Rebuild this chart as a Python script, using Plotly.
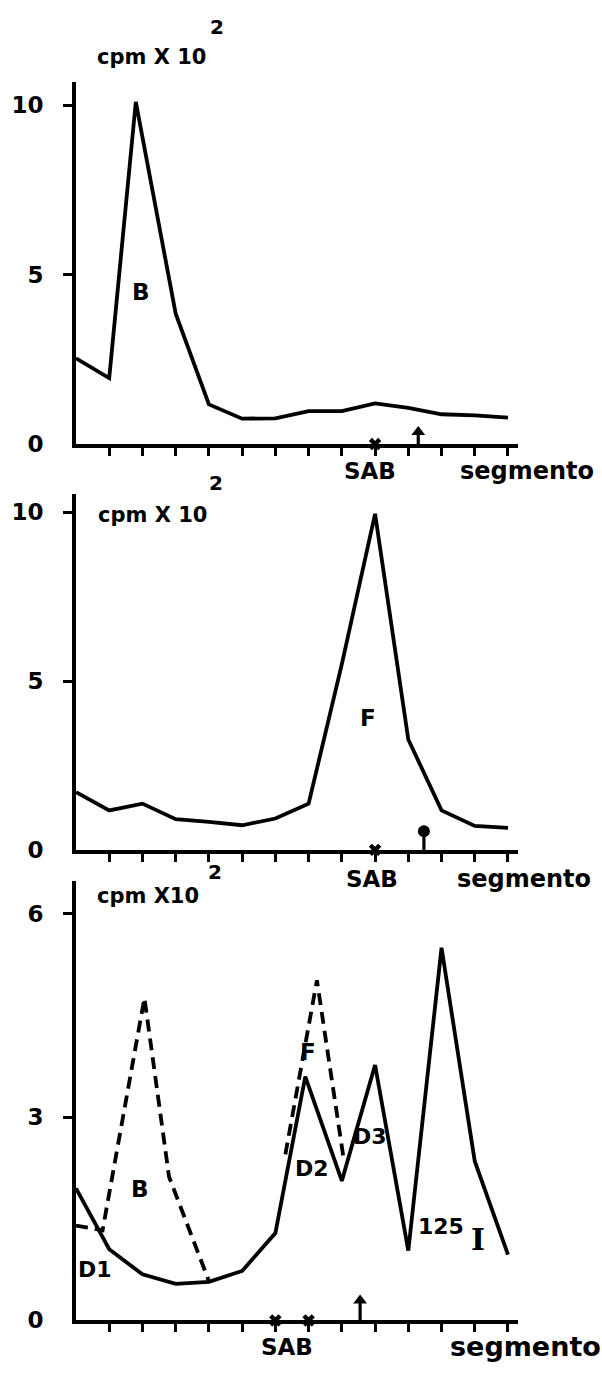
import plotly.graph_objects as go

# ---------------- data ----------------
x_tick_segments = [1, 2, 3, 4, 5, 6, 7, 8, 9, 10, 11, 12, 13]

panel_a_x = [0, 1, 1.8, 3, 4, 5, 6, 7, 8, 9, 10, 11, 12, 13]
panel_a_cpm = [2.53, 1.95, 10.1, 3.85, 1.17, 0.75, 0.76, 0.97, 0.97, 1.2, 1.07, 0.88, 0.85, 0.78]

panel_b_x = [0, 1, 2, 3, 4, 5, 6, 7, 8, 9, 10, 11, 12, 13]
panel_b_cpm = [1.71, 1.17, 1.37, 0.91, 0.83, 0.73, 0.93, 1.37, 5.5, 9.95, 3.27, 1.17, 0.71, 0.65]

panel_c_x = [0, 1, 2, 3, 4, 5, 6, 6.9, 8, 9, 10, 11, 12, 13]
panel_c_cpm = [1.95, 1.05, 0.68, 0.54, 0.57, 0.73, 1.29, 3.6, 2.06, 3.77, 1.03, 5.5, 2.35, 0.97]

panel_c_B_x = [0, 0.8, 2.06, 2.8, 4.0]
panel_c_B_cpm = [1.4, 1.33, 4.76, 2.12, 0.58]
panel_c_F_x = [6.3, 7.25, 8.05]
panel_c_F_cpm = [2.45, 5.02, 2.4]

sab_marks = [[9], [9], [6, 7]]
arrow_x = [10.3, 10.47, 8.55]
arrow_top = [0.53, 0.73, 0.38]
arrow_head = ["triangle-up", "circle", "triangle-up"]

y_ticks = [[0, 5, 10], [0, 5, 10], [0, 3, 6]]
y_tops = [10.7, 10.55, 6.48]
x_end = 13.3

# ---------------- layout geometry (pixels) ----------------
W, H = 602, 1378
x0_px = 76
px_per_seg = 33.23
zero_px = [448.3, 858.0, 1333.0]
px_per_unit = [34.2, 34.1, 68.4]

FONT = "DejaVu Sans"
LW = 3.8
AXW = 3.8


def px_x(panel, x):
    return (x0_px + x * px_per_seg) / W


def px_y(panel, y):
    return 1 - (zero_px[panel] - y * px_per_unit[panel]) / H


fig = go.Figure()
layout = dict(width=W, height=H, margin=dict(l=0, r=0, t=0, b=0),
              paper_bgcolor="white", plot_bgcolor="white", showlegend=False)

xdom = [x0_px / W, (x0_px + x_end * px_per_seg) / W]

for i in range(3):
    n = "" if i == 0 else str(i + 1)
    xa, ya = "x" + n, "y" + n
    ydom = [1 - zero_px[i] / H, 1 - (zero_px[i] - y_tops[i] * px_per_unit[i]) / H]
    layout["xaxis" + n] = dict(domain=xdom, range=[0, x_end], anchor=ya,
                               showline=True, linewidth=AXW, linecolor="black",
                               showgrid=False, zeroline=False,
                               tickvals=x_tick_segments, ticks="outside", ticklen=8,
                               tickwidth=2.8, tickcolor="black", showticklabels=False)
    layout["yaxis" + n] = dict(domain=ydom, range=[0, y_tops[i]], anchor=xa,
                               showline=True, linewidth=AXW, linecolor="black",
                               showgrid=False, zeroline=False,
                               tickvals=y_ticks[i], ticktext=[str(v) for v in y_ticks[i]],
                               ticks="", ticklabelstandoff=24,
                               tickfont=dict(family=FONT, size=23, color="black", weight="bold"),
                               minor=dict(tickvals=[v for v in y_ticks[i] if v != 0],
                                          ticks="outside", ticklen=9, tickwidth=2.8,
                                          tickcolor="black"))

# main curves
mains = [(panel_a_x, panel_a_cpm), (panel_b_x, panel_b_cpm), (panel_c_x, panel_c_cpm)]
for i, (xs, ys) in enumerate(mains):
    n = "" if i == 0 else str(i + 1)
    fig.add_trace(go.Scatter(x=xs, y=ys, mode="lines", xaxis="x" + n, yaxis="y" + n,
                             line=dict(color="black", width=LW), cliponaxis=False,
                             hoverinfo="skip"))

# dashed curves (bottom panel)
for xs, ys in [(panel_c_B_x, panel_c_B_cpm), (panel_c_F_x, panel_c_F_cpm)]:
    fig.add_trace(go.Scatter(x=xs, y=ys, mode="lines", xaxis="x3", yaxis="y3",
                             line=dict(color="black", width=LW, dash="12px,7px"),
                             cliponaxis=False, hoverinfo="skip"))

# SAB markers and arrows
for i in range(3):
    n = "" if i == 0 else str(i + 1)
    fig.add_trace(go.Scatter(x=sab_marks[i], y=[0] * len(sab_marks[i]), mode="markers",
                             xaxis="x" + n, yaxis="y" + n, cliponaxis=False,
                             marker=dict(symbol="x", size=11, color="black",
                                         line=dict(width=0)),
                             hoverinfo="skip"))
    head_off = 6.0 / px_per_unit[i]
    fig.add_trace(go.Scatter(x=[arrow_x[i], arrow_x[i]], y=[0, arrow_top[i] - head_off],
                             mode="lines", xaxis="x" + n, yaxis="y" + n, cliponaxis=False,
                             line=dict(color="black", width=3.2), hoverinfo="skip"))
    fig.add_trace(go.Scatter(x=[arrow_x[i]], y=[arrow_top[i] - head_off], mode="markers",
                             xaxis="x" + n, yaxis="y" + n, cliponaxis=False,
                             marker=dict(symbol=arrow_head[i], size=12, color="black"),
                             hoverinfo="skip"))

ann = []


def add_text(panel, text, x, y, size=23, xanchor="center", family=FONT):
    ann.append(dict(text="<b>%s</b>" % text, x=px_x(panel, x), y=px_y(panel, y),
                    xref="paper", yref="paper",
                    showarrow=False, xanchor=xanchor, yanchor="middle",
                    font=dict(family=family, size=size, color="black")))


# panel A texts
add_text(0, "cpm X 10", 0.56, 11.44, 21, "left")
add_text(0, "2", 4.25, 12.3, 20)
add_text(0, "B", 1.96, 4.48, 23)
add_text(0, "SAB", 8.85, -0.8, 23)
add_text(0, "segmento", 11.5, -0.8, 24, "left")

# panel B texts
add_text(1, "cpm X 10", 0.6, 9.91, 21, "left")
add_text(1, "2", 4.2, 10.85, 20)
add_text(1, "F", 8.78, 3.9, 23)
add_text(1, "SAB", 8.9, -0.85, 23)
add_text(1, "segmento", 11.4, -0.85, 24, "left")

# panel C texts
add_text(2, "cpm X10", 0.58, 6.26, 21, "left")
add_text(2, "2", 4.17, 6.62, 20)
add_text(2, "B", 1.93, 1.94, 23)
add_text(2, "D1", 0.57, 0.75, 22)
add_text(2, "F", 6.98, 3.96, 23)
add_text(2, "D2", 7.1, 2.24, 22)
add_text(2, "D3", 8.85, 2.72, 22)
add_text(2, "125", 10.98, 1.39, 22)
add_text(2, "I", 12.1, 1.2, 30, family="DejaVu Serif")
add_text(2, "SAB", 6.35, -0.39, 23)
add_text(2, "segmento", 11.2, -0.39, 27, "left")

layout["annotations"] = ann
fig.update_layout(**layout)
fig.write_html("out.html")
